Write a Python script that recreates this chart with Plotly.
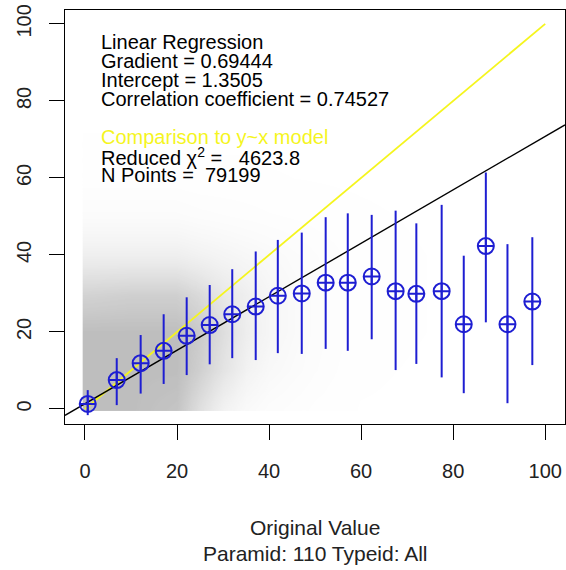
import numpy as np
import plotly.graph_objects as go

# ---- Binned summary of predicted vs original value ----
bin_x = [0.6, 6.9, 12.1, 17.1, 22.1, 27.1, 32.0, 37.1, 41.9, 47.1,
         52.3, 57.1, 62.3, 67.5, 72.0, 77.5, 82.3, 87.1, 91.8, 97.2]
bin_mean = [1.3, 7.5, 11.9, 15.1, 19.0, 21.8, 24.6, 26.6, 29.4, 30.0,
            32.8, 32.8, 34.4, 30.6, 29.9, 30.6, 22.0, 42.3, 22.0, 27.9]
bin_hi = [4.9, 13.2, 19.2, 24.6, 29.0, 32.2, 36.3, 40.9, 43.9, 45.8,
          49.8, 50.8, 50.4, 51.5, 48.2, 53.0, 39.8, 61.4, 42.8, 44.6]
bin_lo = [-1.6, 1.0, 4.0, 6.5, 8.8, 11.6, 13.2, 12.7, 14.5, 14.3,
          15.6, 15.1, 18.1, 10.1, 11.7, 8.2, 4.1, 22.5, 1.5, 11.4]

# ---- Fit statistics ----
gradient = 0.69444
intercept = 1.3505
correlation = 0.74527
reduced_chi2 = 4623.8
n_points = 79199

# ---- Point-cloud density (0 = empty, 1 = saturated) on a coarse grid ----
cloud_x = [0, 10, 20, 25, 30, 35, 40, 50, 60, 80, 100]
cloud_y = [0, 10, 20, 30, 40, 50, 60, 80, 100]
cloud_density = [
    [1.00, 1.00, 0.95, 0.70, 0.45, 0.30, 0.22, 0.14, 0.08, 0.06, 0.04],  # y = 0
    [1.00, 1.00, 1.00, 0.85, 0.65, 0.45, 0.32, 0.20, 0.10, 0.06, 0.04],  # y = 10
    [1.00, 1.00, 1.00, 0.90, 0.72, 0.52, 0.38, 0.22, 0.12, 0.07, 0.05],  # y = 20
    [0.82, 0.85, 0.85, 0.75, 0.60, 0.50, 0.38, 0.22, 0.12, 0.07, 0.05],  # y = 30
    [0.50, 0.50, 0.50, 0.45, 0.40, 0.35, 0.30, 0.20, 0.12, 0.07, 0.05],  # y = 40
    [0.25, 0.25, 0.25, 0.22, 0.20, 0.18, 0.16, 0.13, 0.10, 0.06, 0.04],  # y = 50
    [0.12, 0.12, 0.12, 0.10, 0.10, 0.10, 0.09, 0.08, 0.07, 0.05, 0.04],  # y = 60
    [0.06, 0.06, 0.06, 0.05, 0.05, 0.05, 0.05, 0.05, 0.04, 0.03, 0.03],  # y = 80
    [0.04, 0.04, 0.04, 0.03, 0.03, 0.03, 0.03, 0.03, 0.03, 0.03, 0.03],  # y = 100
]

x_range = [-4.34, 104.3]
y_range = [-3.9, 103.6]

# bilinear resampling of the density table onto a 1-unit grid
gx = np.arange(0.0, 100.5, 1.0)
gy = np.arange(0.0, 100.5, 1.0)
dens = np.array(cloud_density)
rows = np.array([np.interp(gx, cloud_x, r) for r in dens])           # (ny_coarse, nx)
z = np.array([np.interp(gy, cloud_y, rows[:, j]) for j in range(len(gx))]).T

blue = "#1e1ed2"
yellow = "#f5f51e"

fig = go.Figure()

fig.add_trace(go.Heatmap(
    x=gx, y=gy, z=z, zmin=0, zmax=1, zsmooth="best",
    colorscale=[[0, "rgba(255,255,255,0)"], [1, "#bebebe"]],
    showscale=False, hoverinfo="skip"))

# y = x reference model
fig.add_trace(go.Scatter(x=[0, 100], y=[0, 100], mode="lines",
                         line=dict(color=yellow, width=1.8), hoverinfo="skip"))

# linear regression line across the full plot width
fit_x = np.array(x_range)
fig.add_trace(go.Scatter(x=fit_x, y=gradient * fit_x + intercept, mode="lines",
                         line=dict(color="black", width=1.4), hoverinfo="skip"))

# bin means with spread
mean = np.array(bin_mean)
fig.add_trace(go.Scatter(
    x=bin_x, y=bin_mean, mode="markers",
    marker=dict(symbol="circle-cross-open", size=16, color=blue,
                line=dict(width=2, color=blue)),
    error_y=dict(type="data", symmetric=False,
                 array=np.array(bin_hi) - mean,
                 arrayminus=mean - np.array(bin_lo),
                 width=0, thickness=2, color=blue)))

font = "Liberation Sans, Arial, Helvetica, sans-serif"
lines = [
    ("Linear Regression", "black", 95.3),
    (f"Gradient = {gradient}", "black", 90.4),
    (f"Intercept = {intercept}", "black", 85.5),
    (f"Correlation coefficient = {correlation}", "black", 80.6),
    ("Comparison to y~x model", yellow, 70.6),
    ("Reduced χ<sup>2</sup> =\u00a0\u00a0\u00a0" + f"{reduced_chi2}", "black", 65.6),
    ("N Points =\u00a0\u00a0" + f"{n_points}", "black", 60.7),
]
for text, color, yv in lines:
    fig.add_annotation(x=3.0, y=yv, xref="x", yref="y", text=text, showarrow=False,
                       xanchor="left", yanchor="middle",
                       font=dict(family=font, size=20, color=color))

fig.add_annotation(x=0.5, y=0, xref="paper", yref="paper", yshift=-103,
                   text="Original Value", showarrow=False, yanchor="middle",
                   font=dict(family=font, size=21, color="#222"))
fig.add_annotation(x=0.5, y=0, xref="paper", yref="paper", yshift=-129,
                   text="Paramid: 110 Typeid: All", showarrow=False, yanchor="middle",
                   font=dict(family=font, size=21, color="#222"))

fig.update_layout(
    width=566, height=570,
    margin=dict(l=65, r=1, t=10, b=146),
    paper_bgcolor="white", plot_bgcolor="white",
    showlegend=False,
    font=dict(family=font, size=20, color="#222"),
    xaxis=dict(range=x_range, tickvals=[0, 20, 40, 60, 80, 100],
               ticks="outside", ticklen=15, tickwidth=1, tickcolor="black",
               showline=True, mirror=True, linecolor="black", linewidth=1,
               showgrid=False, zeroline=False, ticklabelstandoff=14),
    yaxis=dict(range=y_range, tickvals=[0, 20, 40, 60, 80, 100],
               ticks="outside", ticklen=15, tickwidth=1, tickcolor="black",
               tickangle=-90,
               showline=True, mirror=True, linecolor="black", linewidth=1,
               showgrid=False, zeroline=False, ticklabelstandoff=10),
)

fig.write_html("out.html")
